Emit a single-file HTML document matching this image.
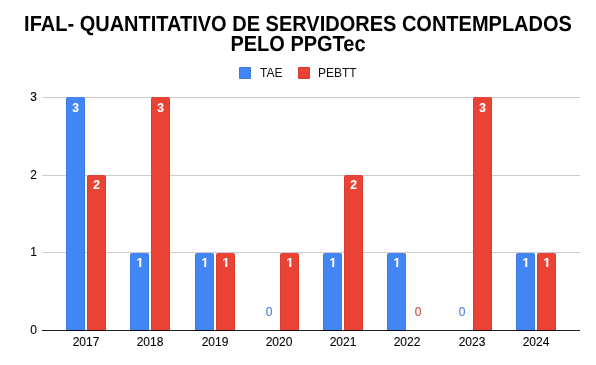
<!DOCTYPE html>
<html><head><meta charset="utf-8"><style>
html,body{margin:0;padding:0;background:#fff;width:596px;height:365px;overflow:hidden;position:relative;font-family:"Liberation Sans",sans-serif}
.wrap{position:absolute;left:0;top:0;width:596px;height:365px;will-change:transform}
.t{position:absolute;left:0;width:596px;text-align:center;font-weight:bold;font-size:20px;line-height:20px;color:#000;white-space:nowrap;text-rendering:geometricPrecision;transform:scaleY(1.09);transform-origin:50% 0}
.grid{position:absolute;left:42px;width:538px;height:1px;background:#cccccc}
.base{position:absolute;left:42px;width:538px;height:1px;top:330px;background:rgba(0,0,0,0.88)}
.yl{position:absolute;left:0;width:37px;text-align:right;font-size:12px;line-height:14px;color:#000;-webkit-text-stroke:0.1px #000}
.bar{position:absolute;width:19.0px;border-radius:2px 2px 0 0;box-shadow:inset 1px 0 rgba(0,0,0,0.08),inset -1px 0 rgba(0,0,0,0.08)}
.lbl{position:absolute;width:19.0px;text-align:center;font-size:12px;line-height:14px;font-weight:bold;color:#fff;-webkit-text-stroke:0.12px #fff}
.one{position:absolute;display:block}
.zero{position:absolute;width:19.0px;text-align:center;font-size:12px;line-height:14px;-webkit-text-stroke:0.1px currentColor}
.xl{position:absolute;top:335px;width:60px;text-align:center;font-size:12px;line-height:14px;color:#000;-webkit-text-stroke:0.1px #000}
.sq{position:absolute;top:67px;width:12px;height:12px;border-radius:1px;box-shadow:inset 0 0 0 1px rgba(0,0,0,0.08)}
.lg{position:absolute;top:66px;font-size:12px;line-height:14px;color:#111}
</style></head><body><div class="wrap">
<div class="t" style="top:13.5px">IFAL- QUANTITATIVO DE SERVIDORES CONTEMPLADOS</div>
<div class="t" style="top:33.5px">PELO PPGTec</div>
<div class="sq" style="left:239px;background:#4285f4"></div>
<div class="lg" style="left:260px">TAE</div>
<div class="sq" style="left:298px;background:#ea4335"></div>
<div class="lg" style="left:318px">PEBTT</div>
<div class="grid" style="top:97px"></div><div class="yl" style="top:90px">3</div><div class="grid" style="top:175px"></div><div class="yl" style="top:168px">2</div><div class="grid" style="top:252px"></div><div class="yl" style="top:245px">1</div><div class="yl" style="top:323px">0</div>
<div class="bar" style="left:66.00px;top:97.25px;height:233.75px;background:#4285f4"></div><div class="lbl" style="left:66.00px;top:101px">3</div><div class="bar" style="left:87.00px;top:175.00px;height:156.00px;background:#ea4335"></div><div class="lbl" style="left:87.00px;top:178px">2</div><div class="xl" style="left:56.00px">2017</div><div class="bar" style="left:130.00px;top:252.75px;height:78.25px;background:#4285f4"></div><svg class="one" style="left:137.22px;top:258px" width="5" height="9" viewBox="100 0 782 1409" preserveAspectRatio="none"><path d="M455 1409V250L120 460V229L480 0H770V1409Z" fill="#fff"/></svg><div class="bar" style="left:151.00px;top:97.25px;height:233.75px;background:#ea4335"></div><div class="lbl" style="left:151.00px;top:101px">3</div><div class="xl" style="left:120.00px">2018</div><div class="bar" style="left:195.00px;top:252.75px;height:78.25px;background:#4285f4"></div><svg class="one" style="left:202.22px;top:258px" width="5" height="9" viewBox="100 0 782 1409" preserveAspectRatio="none"><path d="M455 1409V250L120 460V229L480 0H770V1409Z" fill="#fff"/></svg><div class="bar" style="left:216.00px;top:252.75px;height:78.25px;background:#ea4335"></div><svg class="one" style="left:223.22px;top:258px" width="5" height="9" viewBox="100 0 782 1409" preserveAspectRatio="none"><path d="M455 1409V250L120 460V229L480 0H770V1409Z" fill="#fff"/></svg><div class="xl" style="left:185.00px">2019</div><div class="zero" style="left:259.50px;top:305.00px;color:#4a78d8">0</div><div class="bar" style="left:280.00px;top:252.75px;height:78.25px;background:#ea4335"></div><svg class="one" style="left:287.22px;top:258px" width="5" height="9" viewBox="100 0 782 1409" preserveAspectRatio="none"><path d="M455 1409V250L120 460V229L480 0H770V1409Z" fill="#fff"/></svg><div class="xl" style="left:249.00px">2020</div><div class="bar" style="left:323.00px;top:252.75px;height:78.25px;background:#4285f4"></div><svg class="one" style="left:330.22px;top:258px" width="5" height="9" viewBox="100 0 782 1409" preserveAspectRatio="none"><path d="M455 1409V250L120 460V229L480 0H770V1409Z" fill="#fff"/></svg><div class="bar" style="left:344.00px;top:175.00px;height:156.00px;background:#ea4335"></div><div class="lbl" style="left:344.00px;top:178px">2</div><div class="xl" style="left:313.00px">2021</div><div class="bar" style="left:387.00px;top:252.75px;height:78.25px;background:#4285f4"></div><svg class="one" style="left:394.22px;top:258px" width="5" height="9" viewBox="100 0 782 1409" preserveAspectRatio="none"><path d="M455 1409V250L120 460V229L480 0H770V1409Z" fill="#fff"/></svg><div class="zero" style="left:408.50px;top:305.00px;color:#c84a40">0</div><div class="xl" style="left:377.00px">2022</div><div class="zero" style="left:452.50px;top:305.00px;color:#4a78d8">0</div><div class="bar" style="left:473.00px;top:97.25px;height:233.75px;background:#ea4335"></div><div class="lbl" style="left:473.00px;top:101px">3</div><div class="xl" style="left:442.00px">2023</div><div class="bar" style="left:516.00px;top:252.75px;height:78.25px;background:#4285f4"></div><svg class="one" style="left:523.22px;top:258px" width="5" height="9" viewBox="100 0 782 1409" preserveAspectRatio="none"><path d="M455 1409V250L120 460V229L480 0H770V1409Z" fill="#fff"/></svg><div class="bar" style="left:537.00px;top:252.75px;height:78.25px;background:#ea4335"></div><svg class="one" style="left:544.22px;top:258px" width="5" height="9" viewBox="100 0 782 1409" preserveAspectRatio="none"><path d="M455 1409V250L120 460V229L480 0H770V1409Z" fill="#fff"/></svg><div class="xl" style="left:506.00px">2024</div>
<div class="base"></div>
</div></body></html>
